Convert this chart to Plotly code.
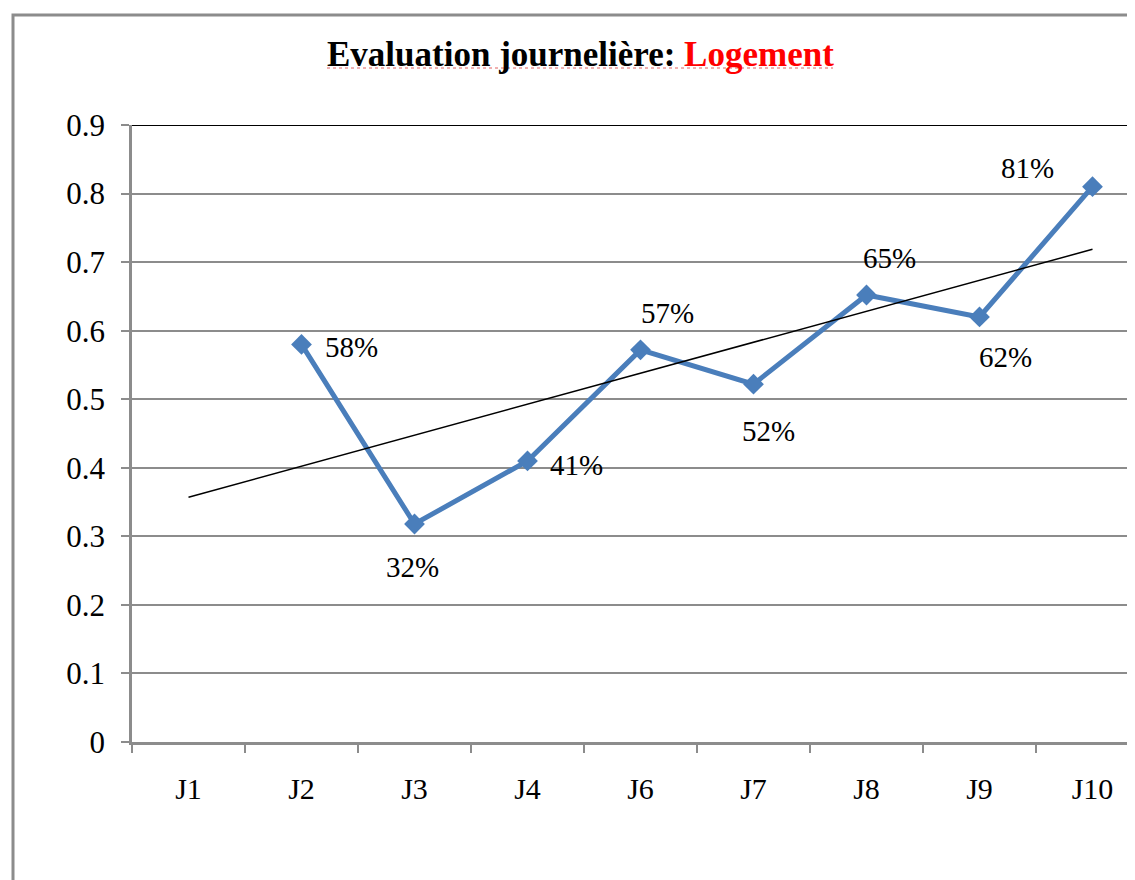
import numpy as np
import plotly.graph_objects as go

categories = ["J1", "J2", "J3", "J4", "J6", "J7", "J8", "J9", "J10"]
values = [None, 0.58, 0.318, 0.41, 0.572, 0.522, 0.652, 0.62, 0.81]
labels = ["", "58%", "32%", "41%", "57%", "52%", "65%", "62%", "81%"]
# label offsets in pixels (dx, dy) relative to each point
label_dx = [0, 50, -2, 49, 27, 15, 23, 26, -65]
label_dy = [0, -3, -43, -4, 37, -47, 37, -40, 19]

# page body has an 8px margin; figure coords = screen coords - 8
OFF = 8
W, H = 1135 - OFF, 880 - OFF
L, R, T, B = 132 - OFF, 0, 125 - OFF, 138
cat_w = 113.0

# linear trend over the non-empty points (category index positions)
idx = np.array([i for i, v in enumerate(values) if v is not None], dtype=float)
vals = np.array([v for v in values if v is not None], dtype=float)
slope, intercept = np.polyfit(idx + 1, vals, 1)
trend_x = [categories[0], categories[-1]]
trend_y = [slope * 1 + intercept, slope * len(categories) + intercept]

font = "Liberation Serif, Times New Roman, serif"
blue = "#4A7EBB"
grid = "#8C8C8C"

fig = go.Figure()
fig.add_trace(go.Scatter(
    x=categories, y=values, mode="lines+markers",
    line=dict(color=blue, width=5),
    marker=dict(symbol="diamond", size=16, color=blue),
    connectgaps=False, showlegend=False, hoverinfo="skip"))
fig.add_trace(go.Scatter(
    x=trend_x, y=trend_y, mode="lines",
    line=dict(color="black", width=1.5),
    showlegend=False, hoverinfo="skip"))

for c, v, t, dx, dy in zip(categories, values, labels, label_dx, label_dy):
    if v is None:
        continue
    fig.add_annotation(x=c, y=v, text=t, showarrow=False,
                       xshift=dx, yshift=dy,
                       font=dict(family=font, size=29, color="black"))

plot_w = W - L - R
x_span = plot_w / cat_w
fig.update_xaxes(
    type="category", range=[-0.5, -0.5 + x_span],
    showgrid=False, showline=True, linecolor=grid, linewidth=2.5,
    ticks="outside", tickson="boundaries", ticklen=8, tickwidth=2, tickcolor=grid,
    ticklabelstandoff=18,
    tickfont=dict(family=font, size=30, color="black"), zeroline=False)
fig.update_yaxes(
    range=[0, 0.9], dtick=0.1, tick0=0,
    showgrid=True, gridcolor=grid, gridwidth=1.5,
    showline=True, linecolor=grid, linewidth=2.5,
    ticks="outside", ticklen=8, tickwidth=2, tickcolor=grid,
    ticklabelstandoff=10,
    tickfont=dict(family=font, size=31, color="black"), zeroline=False)

# top black line at 0.9
fig.add_shape(type="line", xref="paper", yref="y", x0=0, x1=1, y0=0.9, y1=0.9,
              line=dict(color="black", width=2))

# outer chart border (extends beyond the visible window)
ph = H - T - B
def px_to_paper_x(px):
    return (px - OFF - L) / plot_w
def px_to_paper_y(py):
    return (H - B - (py - OFF)) / ph
fig.add_shape(type="rect", xref="paper", yref="paper",
              x0=px_to_paper_x(13), x1=px_to_paper_x(1200),
              y0=px_to_paper_y(1000), y1=px_to_paper_y(15),
              line=dict(color="#8C8C8C", width=3), layer="below")

# title with dotted red underline
fig.add_annotation(xref="paper", yref="paper",
                   x=px_to_paper_x(580), y=px_to_paper_y(54),
                   xanchor="center", yanchor="middle", showarrow=False,
                   text="<b>Evaluation journelière: <span style='color:#FF0000'>Logement</span></b>",
                   font=dict(family=font, size=35, color="black"))
fig.add_shape(type="line", xref="paper", yref="paper",
              x0=px_to_paper_x(327), x1=px_to_paper_x(833),
              y0=px_to_paper_y(68), y1=px_to_paper_y(68),
              line=dict(color="#E06060", width=1, dash="dot"))

fig.update_layout(
    width=W, height=H,
    margin=dict(l=L, r=R, t=T, b=B),
    paper_bgcolor="white", plot_bgcolor="white",
    font=dict(family=font),
)

fig.write_html("out.html")
